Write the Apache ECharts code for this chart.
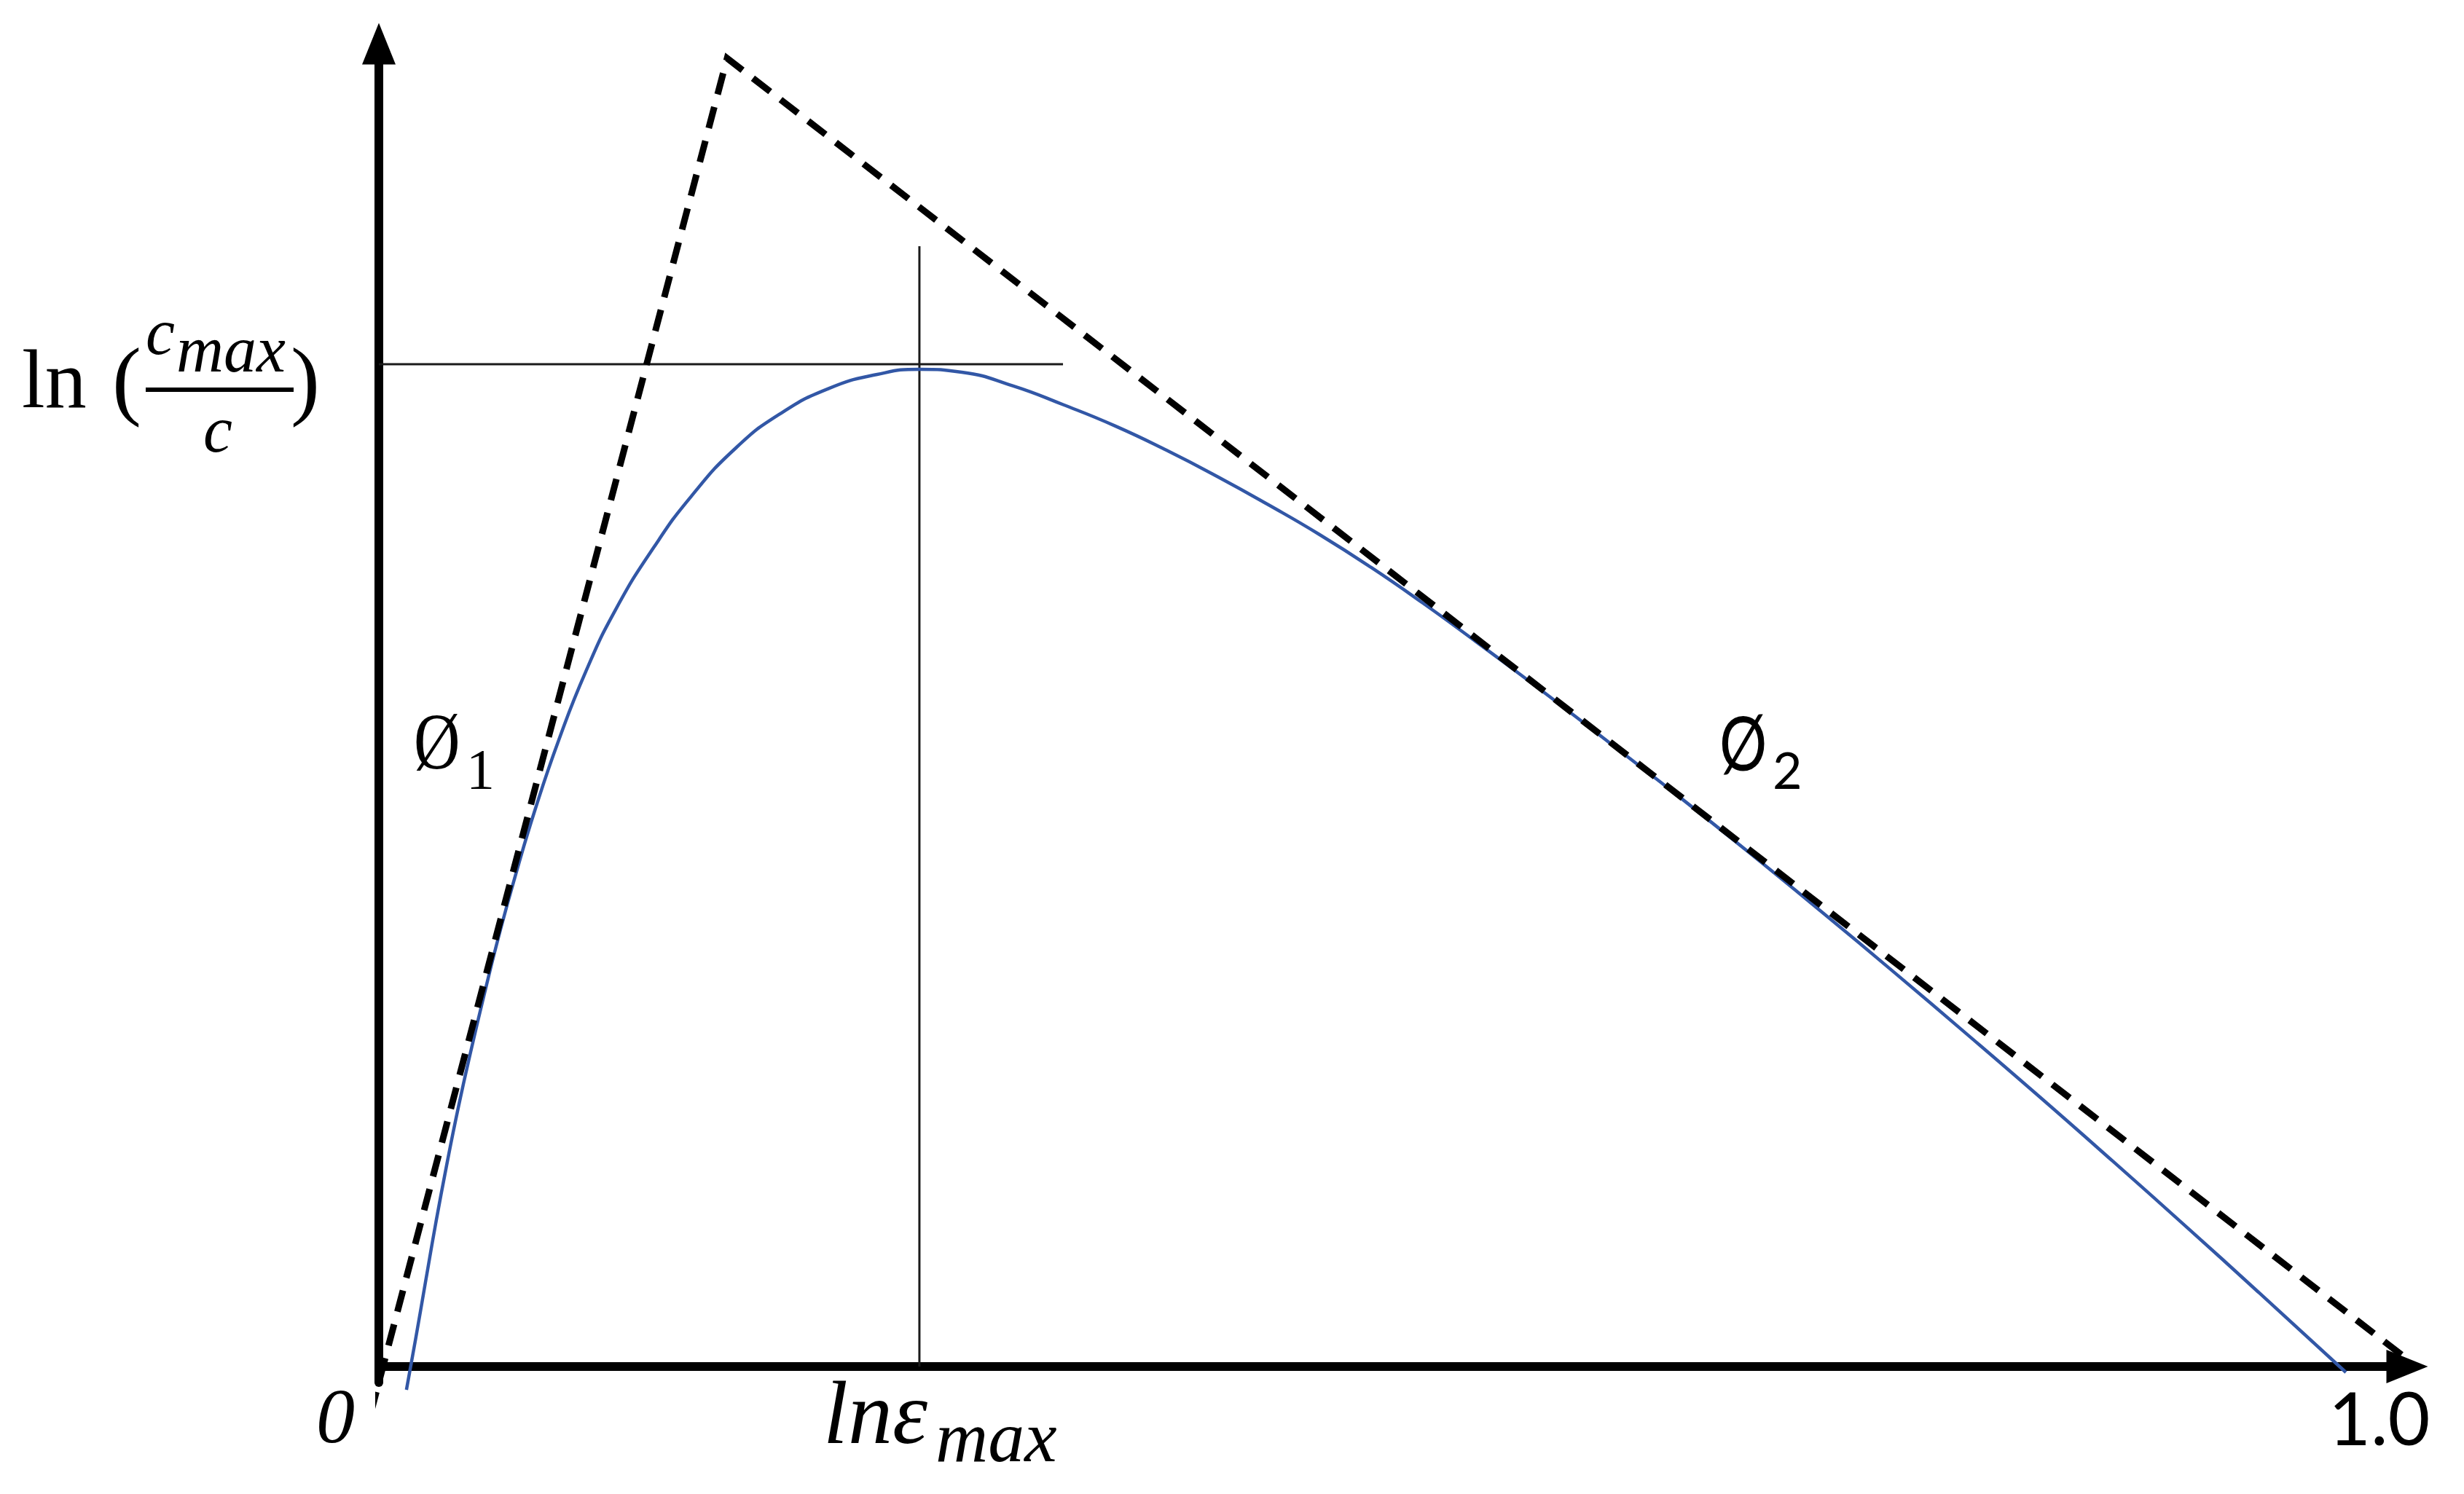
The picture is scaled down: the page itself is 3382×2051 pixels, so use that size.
<!DOCTYPE html>
<html><head><meta charset="utf-8">
<script src="https://cdn.jsdelivr.net/npm/echarts@6/dist/echarts.min.js"></script>
<style>html,body{margin:0;padding:0;background:#fff}#c{width:3382px;height:2051px}</style>
</head><body><div id="c"></div>
<script>
// Blue curve ln(cmax/c) vs strain (normalised units)
const curveX = [0.0136,0.0180,0.0230,0.0280,0.0334,0.0392,0.0456,0.0524,0.0596,0.0675,0.0772,0.0887,0.1020,0.1167,0.1354,0.1541,0.1760,0.1979,0.2220,0.2457,0.2665,0.2874,0.3125,0.3376,0.3631,0.3883,0.4134,0.4386,0.4637,0.4892,0.5144,0.5395,0.5647,0.5898,0.6149,0.6394,0.6753,0.7112,0.7471,0.7830,0.8190,0.8549,0.8908,0.9267,0.9698];
const curveY = [-0.0176,0.0198,0.0639,0.1079,0.1520,0.1960,0.2401,0.2841,0.3282,0.3722,0.4218,0.4736,0.5253,0.5721,0.6189,0.6580,0.6944,0.7203,0.7395,0.7500,0.7539,0.7517,0.7414,0.7270,0.7110,0.6927,0.6728,0.6514,0.6290,0.6041,0.5775,0.5496,0.5209,0.4916,0.4619,0.4328,0.3889,0.3439,0.2980,0.2512,0.2036,0.1552,0.1061,0.0562,-0.0044];
// Dashed tangents (phi1 and phi2) meeting at apex
const tangentX = [-0.0040, 0.1717, 1.0158];
const tangentY = [-0.0352, 0.9890, -0.0132];
// Reference lines at the peak
const peakLineY = 0.7577, peakLineEndX = 0.3373;
const peakX = 0.2665, peakVLineTop = 0.8469;
// Labels
const xTickLabels = ['0', '1.0'];
const xPeakLabel = ['lnε', 'max'];
const yLabelParts = ['ln', '(', 'c', 'max', 'c', ')'];
const phiLabels = [['Ø', '1'], ['Ø', '2']];

const zip = (a, b) => a.map((v, i) => [v, b[i]]);

const SERIF = '"Liberation Serif"', SANS = 'Lato';
function T(text, x, baseline, size, fam, italic, sx) {
  const k = fam === SANS ? 0.387 : 0.3375;
  return {
    type: 'text', x: x, y: baseline - k * size, scaleX: sx || 1, z: 100,
    style: {
      text: text, fill: '#000', align: 'left', verticalAlign: 'middle',
      font: (italic ? 'italic ' : '') + size + 'px ' + fam
    }
  };
}

const chart = echarts.init(document.getElementById('c'), null, {renderer: 'canvas'});
const axisCommon = {
  type: 'value',
  axisLine: {show: true, onZero: true, symbol: ['none', 'triangle'], symbolSize: [46, 57],
    lineStyle: {color: '#000', width: 12}},
  axisTick: {show: false}, axisLabel: {show: false}, splitLine: {show: false}
};
chart.setOption({
  animation: false,
  backgroundColor: '#fff',
  grid: {left: 520, right: 78, top: 60, bottom: 153, containLabel: false},
  xAxis: Object.assign({}, axisCommon, {min: 0, max: 1}),
  yAxis: Object.assign({}, axisCommon, {min: -0.0121, max: 1}),
  series: [
    {type: 'line', name: 'curve', data: zip(curveX, curveY), smooth: 0.5, showSymbol: false, clip: false, z: 4,
      lineStyle: {color: '#3257A6', width: 4.5}},
    {type: 'line', name: 'tangents', data: zip(tangentX, tangentY), showSymbol: false, clip: false, z: 5,
      lineStyle: {color: '#000', width: 9, type: [30, 18], cap: 'butt', join: 'miter'}},
    {type: 'line', name: 'hline', data: [[0, peakLineY], [peakLineEndX, peakLineY]], showSymbol: false, clip: false, z: 3,
      lineStyle: {color: '#1a1a1a', width: 3}},
    {type: 'line', name: 'vline', data: [[peakX, 0], [peakX, peakVLineTop]], showSymbol: false, clip: false, z: 3,
      lineStyle: {color: '#1a1a1a', width: 3}}
  ],
  graphic: [
    T(yLabelParts[0], 30, 568, 114, SERIF, false),
    T(yLabelParts[1], 154, 570, 120, SERIF, false),
    T(yLabelParts[2], 200, 493, 90, SERIF, true),
    T(yLabelParts[3], 242, 517, 90, SERIF, true),
    {type: 'line', z: 100, shape: {x1: 200, y1: 535, x2: 403, y2: 535}, style: {stroke: '#000', lineWidth: 6}},
    T(yLabelParts[4], 279, 627, 90, SERIF, true),
    T(yLabelParts[5], 399, 570, 120, SERIF, false),
    T(xTickLabels[0], 434, 1988, 106, SERIF, true),
    T(xPeakLabel[0], 1130, 1990, 122, SERIF, true),
    T(xPeakLabel[1], 1284, 2013, 100, SERIF, true),
    T(xTickLabels[1], 3196, 1990, 100, SANS, false),
    T(phiLabels[0][0], 568, 1063, 110, SERIF, false, 0.8),
    T(phiLabels[0][1], 640, 1088, 78, SERIF, false),
    T(phiLabels[1][0], 2360, 1065, 102, SANS, false, 0.8),
    T(phiLabels[1][1], 2433, 1088, 70, SANS, false)
  ]
});
</script></body></html>
